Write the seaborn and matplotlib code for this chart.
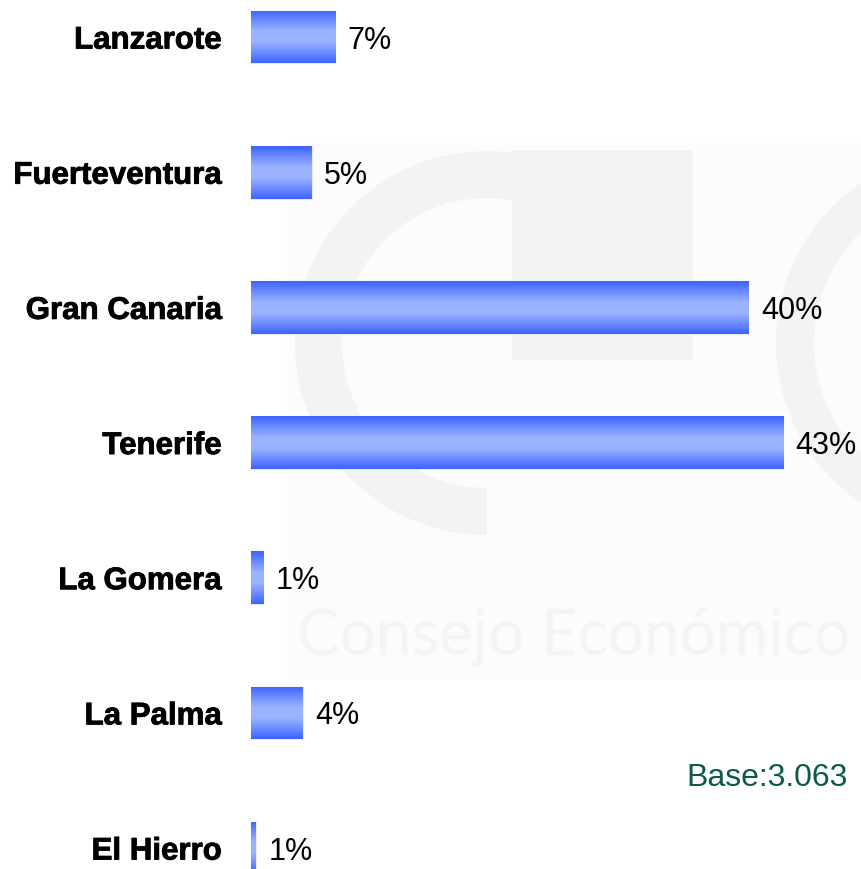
import numpy as np
import pandas as pd
import matplotlib
matplotlib.use("Agg")
import matplotlib.pyplot as plt
import matplotlib.patheffects as pe
from matplotlib.colors import LinearSegmentedColormap
from matplotlib.patches import Wedge, Rectangle
import seaborn as sns

# ============================================================
# DATA
# ============================================================
islands = ["Lanzarote", "Fuerteventura", "Gran Canaria", "Tenerife",
           "La Gomera", "La Palma", "El Hierro"]
share = [6.8, 4.9, 40.2, 43.0, 1.0, 4.2, 0.4]
share_labels = ["7%", "5%", "40%", "43%", "1%", "4%", "1%"]
base_text = "Base:3.063"

df = pd.DataFrame({"isla": islands, "pct": share})

# ============================================================
# FIGURE
# ============================================================
sns.set_style("white")
plt.rcParams["font.family"] = ["Liberation Sans", "DejaVu Sans"]

W, H = 861, 869
fig = plt.figure(figsize=(W / 100, H / 100), dpi=100)
fig.patch.set_facecolor("white")

# background watermark (pixel coords)
bg = fig.add_axes([0, 0, 1, 1], zorder=0)
bg.set_xlim(0, W)
bg.set_ylim(H, 0)
bg.axis("off")
wm = "#f3f3f3"
bg.add_patch(Rectangle((287, 143), W - 287, 537, color="#fcfcfc", lw=0))
bg.add_patch(Wedge((487, 343), 192, 90, 360, width=47, color=wm, lw=0))
bg.add_patch(Rectangle((512, 150), 181, 210, color=wm, lw=0))
bg.add_patch(Wedge((969, 343), 193, 0, 360, width=38, color=wm, lw=0))
bg.text(297, 655, "Consejo Económico", fontsize=46, color="#f4f4f4",
        family=["Lato", "DejaVu Sans"], fontweight="normal", va="baseline", ha="left")

# main bars
ax = fig.add_axes([251 / W, 0, (W - 251) / W, 1], zorder=1)
ax.patch.set_alpha(0)
sns.barplot(data=df, x="pct", y="isla", orient="h", width=0.39,
            color="#3f66ff", edgecolor="#e6ecff", linewidth=0.8, ax=ax)

grad = LinearSegmentedColormap.from_list(
    "bar", [(0, "#3a62ff"), (0.13, "#5b7eff"), (0.4, "#9bb3ff"),
            (0.6, "#9bb3ff"), (0.87, "#5b7eff"), (1, "#3a62ff")])
g = np.linspace(0, 1, 256).reshape(-1, 1)
for p in ax.patches:
    x0, y0, w, h = p.get_x(), p.get_y(), p.get_width(), p.get_height()
    im = ax.imshow(g, cmap=grad, aspect="auto", interpolation="bicubic",
                   extent=[x0, x0 + w, y0 + h, y0], zorder=2)
    im.set_clip_path(p)

vals = ax.bar_label(ax.containers[0], labels=share_labels, padding=9,
                    fontsize=22, color="#000000")
for t in vals:
    t.set_va("center_baseline")

ax.set_xlim(0, 49.3)
ax.set_ylim(6.155, -0.274)
ax.set_xlabel("")
ax.set_ylabel("")
ax.set_xticks([])
ax.tick_params(axis="y", length=0, pad=21)
for lab in ax.get_yticklabels():
    lab.set_fontsize(22.5)
    lab.set_fontweight("bold")
    lab.set_color("#000000")
    lab.set_path_effects([pe.withStroke(linewidth=0.6, foreground="#000000")])
sns.despine(ax=ax, left=True, bottom=True)

fig.text(848 / W, 1 - 778 / H, base_text, fontsize=23, color="#0b5a4a",
         ha="right", va="center")

fig.savefig("out.png", dpi=100)
